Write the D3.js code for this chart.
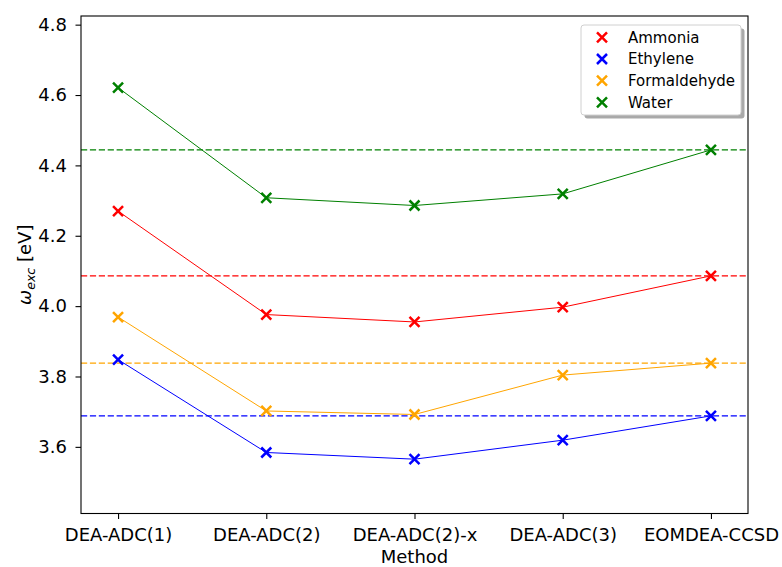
<!DOCTYPE html>
<html>
<head>
<meta charset="utf-8">
<script src="https://cdn.jsdelivr.net/npm/d3@7"></script>
<style>
  html, body { margin: 0; padding: 0; background: #fff; }
  svg { display: block; font-family: "DejaVu Sans", sans-serif; }
</style>
</head>
<body>
<svg id="chart" width="782" height="567"></svg>
<script>
// Methods along the x axis
const methods = ["DEA-ADC(1)", "DEA-ADC(2)", "DEA-ADC(2)-x", "DEA-ADC(3)", "EOMDEA-CCSD"];

// Excitation energies (eV) per molecule, one value per method
const ammonia      = [4.270, 3.976, 3.955, 3.997, 4.086];
const ethylene     = [3.848, 3.584, 3.565, 3.619, 3.688];
const formaldehyde = [3.969, 3.702, 3.692, 3.804, 3.838];
const water        = [4.621, 4.308, 4.286, 4.319, 4.444];

const seriesNames  = ["Ammonia", "Ethylene", "Formaldehyde", "Water"];
const seriesValues = [ammonia, ethylene, formaldehyde, water];
const seriesColors = ["#ff0000", "#0000ff", "#ffa500", "#008000"];

// Reference (EOMDEA-CCSD) level for each molecule, drawn as dashed lines
const referenceValues = seriesValues.map(v => v[v.length - 1]);

const yTicks = [3.6, 3.8, 4.0, 4.2, 4.4, 4.6, 4.8];

const svg = d3.select("#chart");
const plot = { left: 81, right: 748, top: 16, bottom: 513.5 };
const fontSize = 18;

const x = d3.scaleLinear().domain([-0.25, methods.length - 1 + 0.25]).range([plot.left, plot.right]);
const y = d3.scaleLinear().domain([3.4106, 4.8246]).range([plot.bottom, plot.top]);

const g = svg.append("g");

// Dashed reference lines across the whole plot
g.selectAll("line.ref").data(referenceValues).join("line")
  .attr("class", "ref")
  .attr("x1", plot.left).attr("x2", plot.right)
  .attr("y1", d => y(d)).attr("y2", d => y(d))
  .attr("stroke", (d, i) => seriesColors[i])
  .attr("stroke-width", 1.1)
  .attr("stroke-dasharray", "6.2,2.7");

// Series lines
const line = d3.line().x((d, i) => x(i)).y(d => y(d));
g.selectAll("path.series").data(seriesValues).join("path")
  .attr("class", "series")
  .attr("d", line)
  .attr("fill", "none")
  .attr("stroke", (d, i) => seriesColors[i])
  .attr("stroke-width", 1);

// Cross markers
const crossPath = (s) => `M${-s},${-s}L${s},${s}M${-s},${s}L${s},${-s}`;
seriesValues.forEach((vals, si) => {
  g.selectAll(null).data(vals).join("path")
    .attr("transform", (d, i) => `translate(${x(i)},${y(d)})`)
    .attr("d", crossPath(5))
    .attr("fill", "none")
    .attr("stroke", seriesColors[si])
    .attr("stroke-width", 2.5);
});

// Axes
const xAxis = d3.axisBottom(x)
  .tickValues(d3.range(methods.length))
  .tickFormat(i => methods[i])
  .tickSize(5.5).tickPadding(9);
const yAxis = d3.axisLeft(y)
  .tickValues(yTicks)
  .tickFormat(d3.format(".1f"))
  .tickSize(5.5).tickPadding(8.5);

const gx = svg.append("g").attr("transform", `translate(0,${plot.bottom})`).call(xAxis);
const gy = svg.append("g").attr("transform", `translate(${plot.left},0)`).call(yAxis);
[gx, gy].forEach(a => {
  a.select(".domain").remove();
  a.selectAll(".tick line").attr("stroke", "#000").attr("stroke-width", 1.1);
  a.selectAll(".tick text").attr("fill", "#000").style("font-size", fontSize + "px")
    .style("font-family", "DejaVu Sans, sans-serif");
});

// Frame
svg.append("rect")
  .attr("x", plot.left).attr("y", plot.top)
  .attr("width", plot.right - plot.left).attr("height", plot.bottom - plot.top)
  .attr("fill", "none").attr("stroke", "#000").attr("stroke-width", 1.1);

// Axis titles
svg.append("text")
  .attr("x", (plot.left + plot.right) / 2).attr("y", 562.5)
  .attr("text-anchor", "middle").style("font-size", fontSize + "px")
  .text("Method");

const yl = svg.append("text")
  .attr("transform", `translate(31,${(plot.top + plot.bottom) / 2}) rotate(-90)`)
  .attr("text-anchor", "middle").style("font-size", fontSize + "px");
yl.append("tspan").style("font-style", "italic").text("ω");
yl.append("tspan").style("font-style", "italic").style("font-size", "12.6px")
  .attr("dy", 3.8).text("exc");
yl.append("tspan").attr("dy", -3.8).text(" [eV]");

// Legend
const lg = svg.append("g").attr("transform", "translate(581,25)");
const lw = 160, lh = 90;
lg.append("rect").attr("x", 3.5).attr("y", 3.5).attr("width", lw).attr("height", lh)
  .attr("rx", 3).attr("fill", "#a0a0a0").attr("opacity", 0.9);
lg.append("rect").attr("width", lw).attr("height", lh).attr("rx", 3)
  .attr("fill", "#fff").attr("stroke", "#d0d0d0").attr("stroke-width", 1);
seriesNames.forEach((name, i) => {
  const row = lg.append("g").attr("transform", `translate(0,${12.3 + i * 21.7})`);
  row.append("path").attr("transform", "translate(21,0)")
    .attr("d", crossPath(5)).attr("fill", "none")
    .attr("stroke", seriesColors[i]).attr("stroke-width", 2.5);
  row.append("text").attr("x", 47).attr("y", 5.3).style("font-size", "15px").text(name);
});
</script>
</body>
</html>
